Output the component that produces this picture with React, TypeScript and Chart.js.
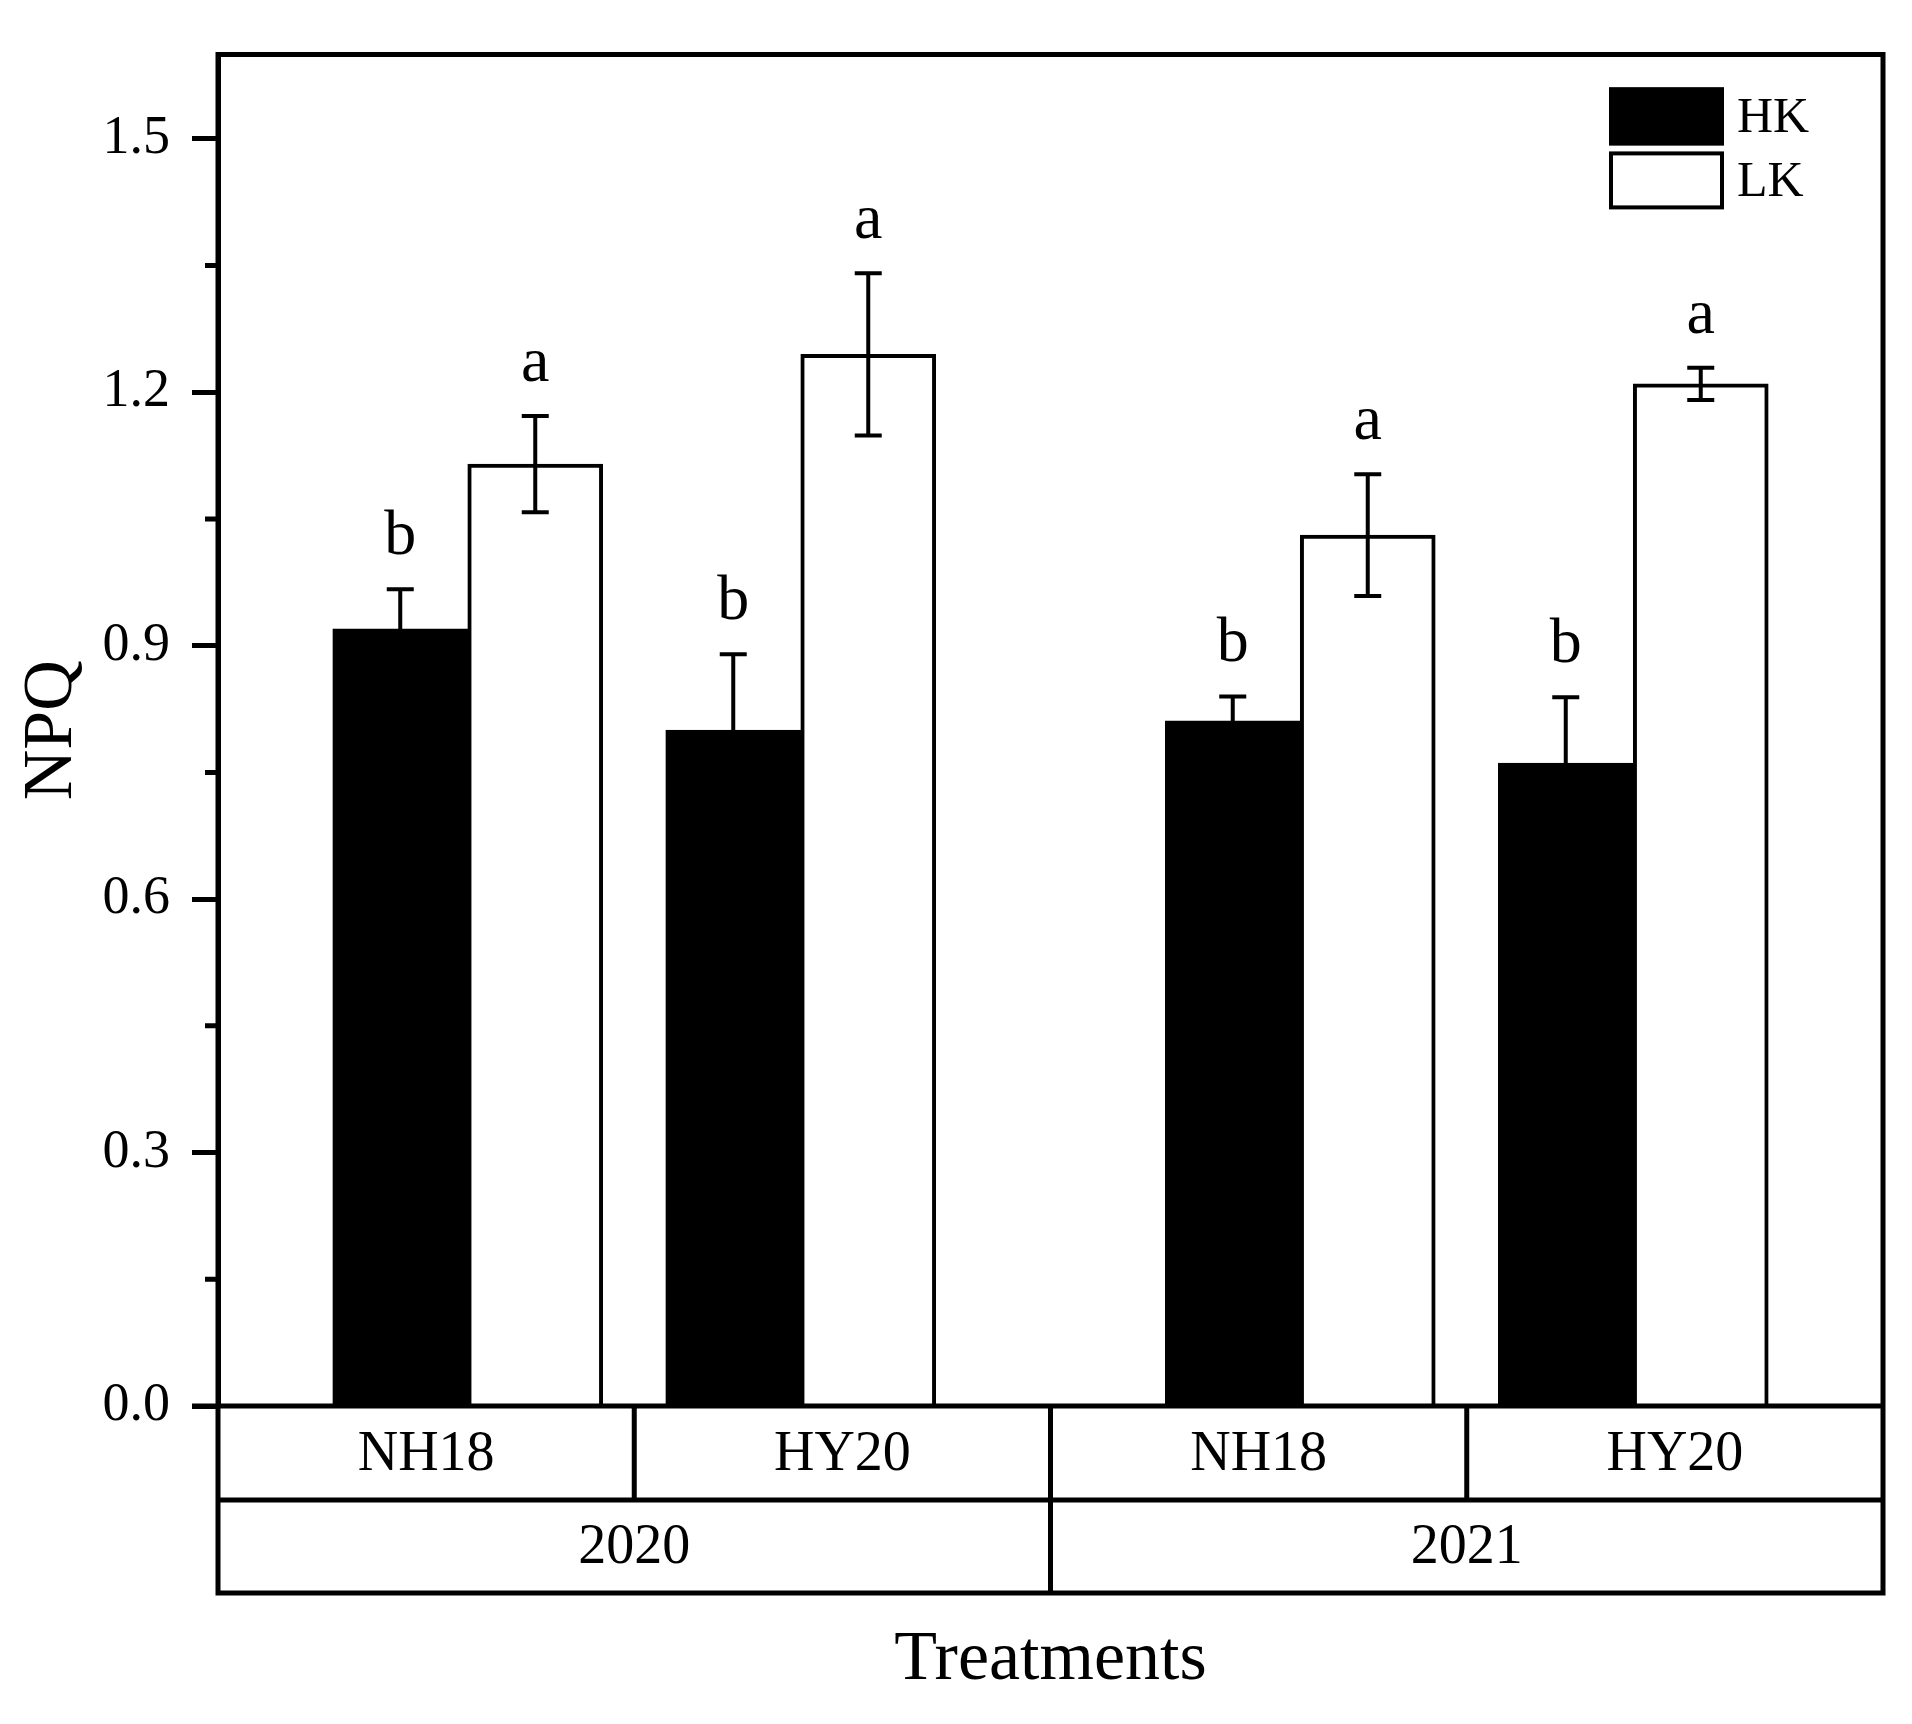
import React, { useEffect, useRef } from 'react';
import { Chart, registerables } from 'chart.js';

Chart.register(...registerables);

// ---------------- data ----------------
const years = ['2020', '2021'];
const varieties = ['NH18', 'HY20', 'NH18', 'HY20'];
const varietyYear = [0, 0, 1, 1];
const positions = [1, 2, 3.5, 4.5];
const seriesNames = ['HK', 'LK'];
const hkValues = [0.92, 0.8, 0.811, 0.761];
const hkErrors = [0.047, 0.09, 0.029, 0.078];
const lkValues = [1.115, 1.245, 1.031, 1.21];
const lkErrors = [0.057, 0.096, 0.072, 0.019];
const hkLetters = ['b', 'b', 'b', 'b'];
const lkLetters = ['a', 'a', 'a', 'a'];
const yTicks = [0, 0.3, 0.6, 0.9, 1.2, 1.5];
const yMinorTicks = [0.15, 0.45, 0.75, 1.05, 1.35];
const xRange = [0.25, 5.25];
const yRange = [0, 1.6];
const yTitle = 'NPQ';
const xTitle = 'Treatments';

// ---------------- style ----------------
const FONT = '"Liberation Serif", "Times New Roman", serif';
const AXIS_W = 5;
const ROW_H = 94;

const decorPlugin = {
  id: 'decor',
  afterDatasetsDraw(chart: any) {
    const ctx = chart.ctx;
    const y = chart.scales.y;
    const errs = [hkErrors, lkErrors];
    const letters = [hkLetters, lkLetters];
    chart.data.datasets.forEach((ds: any, di: number) => {
      const meta = chart.getDatasetMeta(di);
      meta.data.forEach((el: any, i: number) => {
        const v = ds.data[i].y;
        const e = errs[di][i];
        const top = y.getPixelForValue(v + e);
        const bot = y.getPixelForValue(v - e);
        ctx.save();
        ctx.strokeStyle = '#000';
        ctx.lineWidth = 4;
        ctx.beginPath();
        ctx.moveTo(el.x, top);
        ctx.lineTo(el.x, bot);
        ctx.moveTo(el.x - 13.5, top);
        ctx.lineTo(el.x + 13.5, top);
        ctx.moveTo(el.x - 13.5, bot);
        ctx.lineTo(el.x + 13.5, bot);
        ctx.stroke();
        ctx.fillStyle = '#000';
        ctx.font = `64px ${FONT}`;
        ctx.textAlign = 'center';
        ctx.textBaseline = 'alphabetic';
        ctx.fillText(letters[di][i], el.x, top - 35);
        ctx.restore();
      });
    });
  },
  afterDraw(chart: any) {
    const ctx = chart.ctx;
    const x = chart.scales.x;
    const y = chart.scales.y;
    const { left, right, top, bottom } = chart.chartArea;
    const row1 = bottom + ROW_H;
    const row2 = bottom + 2 * ROW_H - 1;
    ctx.save();
    ctx.strokeStyle = '#000';
    ctx.fillStyle = '#000';
    ctx.lineWidth = AXIS_W;

    // minor ticks
    ctx.beginPath();
    yMinorTicks.forEach((v) => {
      const py = y.getPixelForValue(v);
      ctx.moveTo(left - 13, py);
      ctx.lineTo(left, py);
    });
    ctx.stroke();

    // frame
    ctx.beginPath();
    ctx.rect(left, top, right - left, row2 - top);
    ctx.moveTo(left - 26, bottom);
    ctx.lineTo(right, bottom);
    ctx.moveTo(left, row1);
    ctx.lineTo(right, row1);
    ctx.stroke();

    // category cell edges (in data units)
    const edges: number[] = [xRange[0]];
    for (let i = 0; i < positions.length - 1; i++) edges.push((positions[i] + positions[i + 1]) / 2);
    edges.push(xRange[1]);

    ctx.beginPath();
    for (let i = 1; i < edges.length - 1; i++) {
      const px = x.getPixelForValue(edges[i]);
      const yearBoundary = varietyYear[i - 1] !== varietyYear[i];
      ctx.moveTo(px, bottom);
      ctx.lineTo(px, yearBoundary ? row2 : row1);
    }
    ctx.stroke();

    ctx.textAlign = 'center';
    ctx.textBaseline = 'middle';
    ctx.font = `56px ${FONT}`;
    varieties.forEach((name, i) => {
      const cx = (x.getPixelForValue(edges[i]) + x.getPixelForValue(edges[i + 1])) / 2;
      ctx.fillText(name, cx, (bottom + row1) / 2 + 2);
    });
    years.forEach((yr, yi) => {
      const idx = varietyYear.map((v, i) => (v === yi ? i : -1)).filter((i) => i >= 0);
      const a = x.getPixelForValue(edges[idx[0]]);
      const b = x.getPixelForValue(edges[idx[idx.length - 1] + 1]);
      ctx.fillText(yr, (a + b) / 2, (row1 + row2) / 2 + 2);
    });

    // legend
    const bw = 115, bh = 58, gap = 6;
    const lx = right - 274;
    let ly = top + 33;
    ctx.textAlign = 'left';
    ctx.font = `50px ${FONT}`;
    chart.data.datasets.forEach((ds: any) => {
      ctx.fillStyle = ds.backgroundColor;
      ctx.fillRect(lx, ly, bw, bh);
      ctx.lineWidth = 4;
      ctx.strokeStyle = ds.borderColor;
      ctx.strokeRect(lx + 2, ly + 2, bw - 4, bh - 4);
      ctx.fillStyle = '#000';
      ctx.fillText(ds.label, lx + bw + 13, ly + bh / 2 + 2);
      ly += bh + gap;
    });
    ctx.restore();
  },
};

export default function App() {
  const ref = useRef<HTMLCanvasElement>(null);
  useEffect(() => {
    const canvas = ref.current!;
    const chart = new Chart(canvas, {
      type: 'bar',
      data: {
        datasets: [
          {
            label: seriesNames[0],
            data: positions.map((p, i) => ({ x: p, y: hkValues[i] })),
            backgroundColor: '#000000',
            borderColor: '#000000',
            borderWidth: 4,
            barThickness: 135,
          },
          {
            label: seriesNames[1],
            data: positions.map((p, i) => ({ x: p, y: lkValues[i] })),
            backgroundColor: '#ffffff',
            borderColor: '#000000',
            borderWidth: 4,
            barThickness: 135,
          },
        ],
      },
      options: {
        animation: false,
        responsive: false,
        devicePixelRatio: 1,
        layout: { padding: { top: 50, right: 29, left: 0, bottom: 0 } },
        plugins: {
          legend: { display: false },
          tooltip: { enabled: false },
        },
        scales: {
          x: {
            type: 'linear',
            min: xRange[0],
            max: xRange[1],
            offset: false,
            grid: { display: false },
            border: { display: false },
            ticks: { display: false },
            title: {
              display: true,
              text: xTitle,
              color: '#000',
              font: { family: FONT, size: 70 },
              padding: { top: 0, bottom: 21 },
            },
            afterFit(s: any) {
              s.height = 318;
            },
          },
          y: {
            min: yRange[0],
            max: yRange[1],
            afterBuildTicks(s: any) {
              s.ticks = yTicks.map((v) => ({ value: v }));
            },
            ticks: {
              callback: (v: any) => Number(v).toFixed(1),
              color: '#000',
              font: { family: FONT, size: 54 },
              padding: 22,
            },
            grid: {
              drawOnChartArea: false,
              drawTicks: true,
              tickLength: 26,
              tickWidth: AXIS_W,
              tickColor: '#000',
            },
            border: { display: true, width: AXIS_W, color: '#000' },
            title: {
              display: true,
              text: yTitle,
              color: '#000',
              font: { family: FONT, size: 70 },
              padding: { top: 11, bottom: 0 },
            },
            afterFit(s: any) {
              s.width = 218;
            },
          },
        },
      } as any,
      plugins: [decorPlugin],
    });
    return () => chart.destroy();
  }, []);
  return (
    <div style={{ position: 'absolute', left: 0, top: 0, width: 1912, height: 1724, background: '#fff' }}>
      <canvas ref={ref} width={1912} height={1724} style={{ display: 'block', width: 1912, height: 1724 }} />
    </div>
  );
}
